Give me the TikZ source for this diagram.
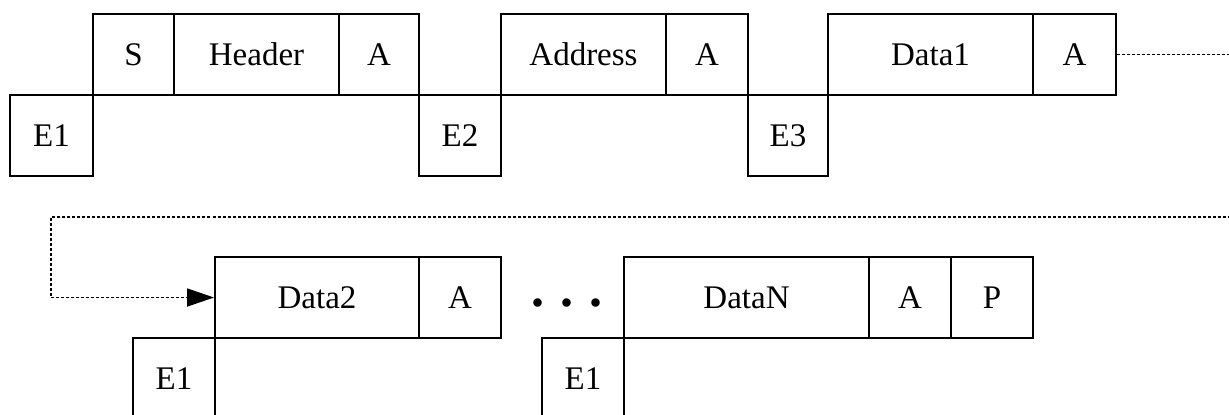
\documentclass[tikz,border=0pt]{standalone}
\usepackage{fontspec}
\setmainfont{Liberation Serif}
\usetikzlibrary{arrows.meta}
\begin{document}
\begin{tikzpicture}[x=0.5pt,y=-0.5pt,
  cell/.style={draw,line width=1pt,inner sep=0pt,minimum height=40.5pt,
    font=\fontsize{16.5}{18}\selectfont},
  dotline/.style={line width=0.9pt,dash pattern=on 1.5pt off 1pt}]
\useasboundingbox (0,0) rectangle (1229,414);
\begin{scope}
\clip (0,0) rectangle (1229,414);
% top row
\node[cell,minimum width=40.5pt] (S) at (133.5,54.5) {S};
\node[cell,minimum width=82.5pt] (Hd) at (256.5,54.5) {Header};
\node[cell,minimum width=40pt] (A1) at (379,54.5) {A};
\node[cell,minimum width=82.5pt] (Ad) at (583.5,54.5) {Address};
\node[cell,minimum width=41pt] (A2) at (707,54.5) {A};
\node[cell,minimum width=102.5pt] (D1) at (930.5,54.5) {Data1};
\node[cell,minimum width=41.5pt] (A3) at (1074.5,54.5) {A};
\node[cell,minimum width=41.5pt] (E1) at (51.5,135.5) {E1};
\node[cell,minimum width=41pt] (E2) at (460,135.5) {E2};
\node[cell,minimum width=40pt] (E3) at (788,135.5) {E3};
% bottom row
\node[cell,minimum width=102pt] (D2) at (317,297.5) {Data2};
\node[cell,minimum width=41pt] (A4) at (460,297.5) {A};
\node[cell,minimum width=122.5pt] (DN) at (746.5,297.5) {DataN};
\node[cell,minimum width=41pt] (A5) at (910,297.5) {A};
\node[cell,minimum width=41pt] (P) at (992,297.5) {P};
\node[cell,minimum width=41pt] (E1b) at (174,378.5) {E1};
\node[cell,minimum width=41pt] (E1c) at (583,378.5) {E1};
\node[font=\fontsize{26}{28}\bfseries,anchor=base,inner sep=0pt] (dots) at (567,306) {.\hspace{8pt}.\hspace{8pt}.};
% connector
\coordinate (r1) at (1245,217);
\coordinate (l1) at (51,217);
\draw[dotline,-{Triangle[length=13.5pt,width=9pt]}] (A3.east) -| (r1) -- (l1) |- (D2.west);
\end{scope}
\end{tikzpicture}
\end{document}
